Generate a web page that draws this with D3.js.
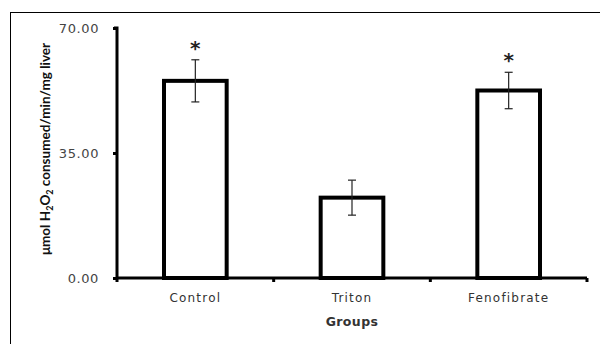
<!DOCTYPE html>
<html>
<head>
<meta charset="utf-8">
<script src="https://cdn.jsdelivr.net/npm/d3@7"></script>
<style>
  body { margin: 0; background: #fff; }
  svg { display: block; }
</style>
</head>
<body>
<svg id="chart"></svg>
<script>
'use strict'

const groups = ['Control', 'Triton', 'Fenofibrate'];
const means = [55.2, 22.5, 52.5];
const errors = [5.9, 4.9, 5.1];
const significant = [true, false, true];
const yTicks = [0, 35, 70];

var width = 600, height = 344;
var margin = { left: 117, right: 13, top: 28, bottom: 66 };

var svg = d3.select('#chart')
	.attr('width', width)
	.attr('height', height);

// outer frame (runs off the right and bottom edge)
svg.append('rect')
	.attr('x', 10.5)
	.attr('y', 12.5)
	.attr('width', 620)
	.attr('height', 360)
	.attr('fill', 'none')
	.attr('stroke', '#000')
	.attr('stroke-width', 1);

var x = d3.scaleBand()
	.domain(groups)
	.range([margin.left, width - margin.right])
	.paddingInner(0.6)
	.paddingOuter(0.3);

var y = d3.scaleLinear()
	.domain([0, 70])
	.range([height - margin.bottom, margin.top]);

var g = svg.append('g');

// bars
g.selectAll('.bar')
	.data(groups)
	.enter()
	.append('rect')
	.attr('class', 'bar')
	.attr('x', function(d) { return x(d); })
	.attr('y', function(d, i) { return y(means[i]); })
	.attr('width', x.bandwidth())
	.attr('height', function(d, i) { return y(0) - y(means[i]); })
	.attr('fill', '#fff')
	.attr('stroke', '#000')
	.attr('stroke-width', 4);

// error bars
var err = g.selectAll('.err')
	.data(groups)
	.enter()
	.append('g')
	.attr('class', 'err')
	.attr('stroke', '#222')
	.attr('stroke-width', 1.2);

err.append('line')
	.attr('x1', function(d) { return x(d) + x.bandwidth() / 2; })
	.attr('x2', function(d) { return x(d) + x.bandwidth() / 2; })
	.attr('y1', function(d, i) { return y(means[i] + errors[i]); })
	.attr('y2', function(d, i) { return y(means[i] - errors[i]); });

[1, -1].forEach(function(s) {
	err.append('line')
		.attr('x1', function(d) { return x(d) + x.bandwidth() / 2 - 4; })
		.attr('x2', function(d) { return x(d) + x.bandwidth() / 2 + 4; })
		.attr('y1', function(d, i) { return y(means[i] + s * errors[i]); })
		.attr('y2', function(d, i) { return y(means[i] + s * errors[i]); });
});

// asterisks
g.selectAll('.star')
	.data(groups.filter(function(d, i) { return significant[i]; }))
	.enter()
	.append('text')
	.attr('class', 'star')
	.attr('x', function(d) { return x(d) + x.bandwidth() / 2; })
	.attr('y', function(d) { var i = groups.indexOf(d); return y(means[i] + errors[i]) - 5; })
	.attr('text-anchor', 'middle')
	.style('font-family', 'DejaVu Sans, sans-serif')
	.style('font-size', '20px')
	.style('font-weight', 'bold')
	.attr('fill', '#222')
	.text('*');

// y axis
var yAxis = svg.append('g')
	.attr('transform', 'translate(' + margin.left + ',0)')
	.call(d3.axisLeft(y).tickValues(yTicks).tickSize(4).tickPadding(14).tickFormat(d3.format('.2f')));

yAxis.select('.domain')
	.attr('stroke-width', 3)
	.attr('d', 'M-3,' + y(70) + 'H0V' + y(0));

yAxis.selectAll('.tick line').attr('stroke-width', 3);

yAxis.selectAll('.tick text')
	.style('font-family', 'DejaVu Sans, Verdana, sans-serif')
	.style('font-size', '13px')
	.style('letter-spacing', '0.6px')
	.attr('fill', '#444');

// x axis
var xAxis = svg.append('g')
	.attr('transform', 'translate(0,' + y(0) + ')')
	.call(d3.axisBottom(x).tickSize(0).tickPadding(15));

xAxis.select('.domain')
	.attr('stroke-width', 3)
	.attr('d', 'M' + margin.left + ',0H' + (width - margin.right));

xAxis.selectAll('.tick text')
	.style('font-family', 'DejaVu Sans, Verdana, sans-serif')
	.style('font-size', '12px')
	.style('letter-spacing', '1.2px')
	.attr('fill', '#333');

// x tick marks between groups
var bounds = [0, 1, 2, 3].map(function(i) { return margin.left + i * (width - margin.right - margin.left) / 3; });
xAxis.selectAll('.sep')
	.data(bounds)
	.enter()
	.append('line')
	.attr('class', 'sep')
	.attr('x1', function(d) { return d; })
	.attr('x2', function(d) { return d; })
	.attr('y1', 0)
	.attr('y2', 4)
	.attr('stroke', '#000')
	.attr('stroke-width', 3);

// axis titles
svg.append('text')
	.attr('x', (margin.left + width - margin.right) / 2)
	.attr('y', 326)
	.attr('text-anchor', 'middle')
	.style('font-family', 'DejaVu Sans, Verdana, sans-serif')
	.style('font-size', '12.5px')
	.style('font-weight', 'bold')
	.style('letter-spacing', '0.4px')
	.attr('fill', '#333')
	.text('Groups');

var yl = svg.append('text')
	.attr('transform', 'translate(50,' + ((y(0) + y(70)) / 2 - 4) + ') rotate(-90)')
	.attr('text-anchor', 'middle')
	.style('font-family', 'Lato, sans-serif')
	.style('font-size', '13.5px')
	.style('font-weight', 'bold')
	.attr('fill', '#111');

yl.append('tspan').text('μmol H');
yl.append('tspan').attr('dy', 3).style('font-size', '9px').text('2');
yl.append('tspan').attr('dy', -3).text('O');
yl.append('tspan').attr('dy', 3).style('font-size', '9px').text('2');
yl.append('tspan').attr('dy', -3).text(' consumed/min/mg liver');
</script>
</body>
</html>
